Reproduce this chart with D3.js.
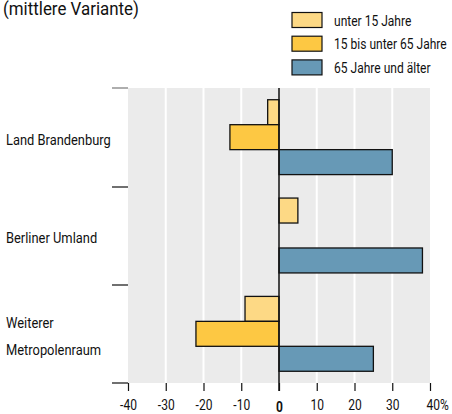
<!DOCTYPE html>
<html>
<head>
<meta charset="utf-8">
<script src="https://cdn.jsdelivr.net/npm/d3@7"></script>
<style>
  body { margin: 0; background: #fff; }
  text { font-family: Roboto, "Liberation Sans", sans-serif; fill: #111; }
</style>
</head>
<body>
<div id="chart"></div>
<script>
var regions = ["Land Brandenburg", "Berliner Umland", "Weiterer Metropolenraum"];
var groups = ["unter 15 Jahre", "15 bis unter 65 Jahre", "65 Jahre und älter"];
var unter15 = [-3, 5, -9];
var mitte = [-13, 0, -22];
var ab65 = [30, 38, 25];
var xTicks = [-40, -30, -20, -10, 0, 10, 20, 30, 40];
var colors = ["#fdd985", "#fdc843", "#6799b6"];

// the original uses a condensed face; squeeze Roboto a bit
var squeeze = "scale(0.86,1)";

window.onload = function(){
	var w = 452, h = 414;
	var svg = d3.select("#chart").append("svg")
		.attr("width", w)
		.attr("height", h);

	var x = d3.scaleLinear().domain([-40, 40]).range([128, 430]);
	var y = d3.scaleBand().domain(regions).range([88, 383]);
	var yInner = d3.scaleBand().domain(groups).range([0, y.bandwidth()]).paddingOuter(0.47);

	// title (cut at the top)
	svg.append("g").attr("transform", "translate(3,15) scale(0.94,1)")
		.append("text")
		.style("font-size", "18px")
		.text("(mittlere Variante)");

	// legend
	var leg = svg.append("g").selectAll("g").data(groups).enter().append("g")
		.attr("transform", function(d, i){ return "translate(292," + (12.5 + i * 23.7) + ")"; });
	leg.append("rect")
		.attr("width", 30).attr("height", 15)
		.attr("fill", function(d, i){ return colors[i]; })
		.attr("stroke", "#111").attr("stroke-width", 1.2);
	leg.append("g").attr("transform", "translate(42,13) " + squeeze)
		.append("text")
		.style("font-size", "14px")
		.text(function(d){ return d; });

	// plot background
	svg.append("rect")
		.attr("x", x(-40)).attr("y", 88)
		.attr("width", x(40) - x(-40)).attr("height", 295)
		.attr("fill", "#ebebeb");

	// gridlines
	svg.append("g").selectAll("line").data(xTicks.filter(function(d){ return d != 0 && d != -40 && d != 40; }))
		.enter().append("line")
		.attr("x1", function(d){ return x(d); }).attr("x2", function(d){ return x(d); })
		.attr("y1", 88).attr("y2", 383)
		.attr("stroke", "#fff").attr("stroke-width", 2);

	// bars
	var series = [unter15, mitte, ab65];
	series.forEach(function(vals, s){
		var rows = vals.map(function(v, i){ return {region: regions[i], value: v}; })
			.filter(function(d){ return d.value != 0; });
		svg.append("g").selectAll("rect").data(rows).enter().append("rect")
			.attr("x", function(d){ return x(Math.min(0, d.value)); })
			.attr("y", function(d){ return y(d.region) + yInner(groups[s]); })
			.attr("width", function(d){ return Math.abs(x(d.value) - x(0)); })
			.attr("height", yInner.bandwidth())
			.attr("fill", colors[s])
			.attr("stroke", "#111").attr("stroke-width", 1.3);
	});

	// zero line
	svg.append("line")
		.attr("x1", x(0)).attr("x2", x(0))
		.attr("y1", 88).attr("y2", 391)
		.attr("stroke", "#111").attr("stroke-width", 1.5);

	// left category ticks
	svg.append("g").selectAll("line").data([88, 187, 285, 383]).enter().append("line")
		.attr("x1", 112).attr("x2", 128)
		.attr("y1", function(d){ return d; }).attr("y2", function(d){ return d; })
		.attr("stroke", function(d, i){ return i == 0 ? "#777" : "#111"; })
		.attr("stroke-width", 1.2);

	// category labels
	var labelLines = [["Land Brandenburg"], ["Berliner Umland"], ["Weiterer", "Metropolenraum"]];
	labelLines.forEach(function(lines, i){
		var cy = y(regions[i]) + y.bandwidth() / 2;
		var t = svg.append("g").attr("transform", "translate(6,0) " + squeeze)
			.append("text")
			.style("font-size", "15px");
		lines.forEach(function(l, j){
			t.append("tspan")
				.attr("x", 0)
				.attr("y", lines.length == 1 ? cy + 7.5 : cy - 6 + j * 27.5)
				.text(l);
		});
	});

	// x axis
	var xa = svg.append("g").attr("transform", "translate(0,383)")
		.call(d3.axisBottom(x).tickValues(xTicks).tickSize(8).tickFormat(function(d){ return d == 40 ? "40%" : d; }));
	xa.select(".domain").remove();
	xa.selectAll(".tick line").attr("stroke", "#111").attr("stroke-width", 1.2);
	xa.selectAll(".tick text")
		.attr("y", 17.5)
		.attr("transform", squeeze)
		.style("font-size", "14px")
		.style("font-family", "Roboto, 'Liberation Sans', sans-serif")
		.attr("fill", "#111")
		.attr("text-anchor", "middle")
		.attr("dx", function(d){ return d == 40 ? "0.6em" : 0; })
		.style("font-weight", function(d){ return d == 0 ? "bold" : "normal"; })
		.attr("dy", function(d){ return d == 0 ? "0.8em" : "0.71em"; });
}
</script>
</body>
</html>
